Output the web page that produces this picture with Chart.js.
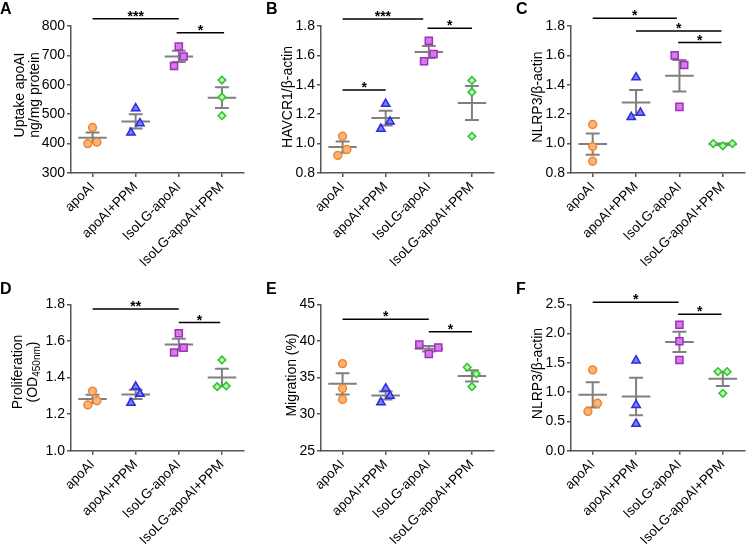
<!DOCTYPE html>
<html><head><meta charset="utf-8">
<script src="https://cdn.jsdelivr.net/npm/chart.js@4.4.1/dist/chart.umd.min.js"></script>
<style>
body{margin:0;background:#fff;width:751px;height:545px;position:relative;overflow:hidden;font-family:"Liberation Sans",Arial,sans-serif}
.p{position:absolute}
.lt{position:absolute;font-weight:bold;font-size:16px;line-height:16px;color:#000}
canvas{display:block}
</style></head><body>
<div class="p" style="left:0;top:0"><canvas id="cA" width="250" height="270"></canvas></div>
<div class="p" style="left:250px;top:0"><canvas id="cB" width="250" height="270"></canvas></div>
<div class="p" style="left:500px;top:0"><canvas id="cC" width="251" height="270"></canvas></div>
<div class="p" style="left:0;top:270px"><canvas id="cD" width="250" height="275"></canvas></div>
<div class="p" style="left:250px;top:270px"><canvas id="cE" width="250" height="275"></canvas></div>
<div class="p" style="left:500px;top:270px"><canvas id="cF" width="251" height="275"></canvas></div>
<div class="lt" style="left:0;top:1px">A</div>
<div class="lt" style="left:266px;top:1px">B</div>
<div class="lt" style="left:516px;top:1px">C</div>
<div class="lt" style="left:0;top:281px">D</div>
<div class="lt" style="left:266px;top:281px">E</div>
<div class="lt" style="left:516px;top:281px">F</div>
<script>
// ---------- data ----------
const categories = ['apoAI', 'apoAI+PPM', 'IsoLG-apoAI', 'IsoLG-apoAI+PPM'];

// A: Uptake apoAI (ng/mg protein)
const uptakeValues = [[455, 400, 405], [520, 469, 437], [730, 696, 664], [616, 558, 495]];
const uptakeTicks = [300, 400, 500, 600, 700, 800];
const uptakeSig = [[0, 2, 825, '***'], [1.95, 3.05, 777, '*']];

// B: HAVCR1/β-actin
const havcr1Values = [[1.05, 0.92, 0.96], [1.27, 1.15, 1.10], [1.70, 1.61, 1.56], [1.43, 1.35, 1.05]];
const havcr1Ticks = [0.8, 1.0, 1.2, 1.4, 1.6, 1.8];
const havcr1Sig = [[0, 1.87, 1.848, '***'], [1.97, 3.0, 1.784, '*'], [0, 1, 1.365, '*']];

// C: NLRP3/β-actin
const nlrp3CValues = [[1.13, 0.98, 0.88], [1.45, 1.18, 1.21], [1.60, 1.535, 1.25], [1.00, 0.985, 1.00]];
const nlrp3CTicks = [0.8, 1.0, 1.2, 1.4, 1.6, 1.8];
const nlrp3CSig = [[0, 1.94, 1.852, '*'], [1, 2.97, 1.766, '*'], [1.97, 2.97, 1.687, '*']];

// D: Proliferation (OD450nm)
const prolifValues = [[1.326, 1.25, 1.273], [1.35, 1.31, 1.262], [1.642, 1.563, 1.537], [1.496, 1.35, 1.354]];
const prolifTicks = [1.0, 1.2, 1.4, 1.6, 1.8];
const prolifSig = [[0, 2, 1.774, '**'], [2.0, 2.96, 1.70, '*']];

// E: Migration (%)
const migrationValues = [[36.9, 33.5, 32.0], [33.5, 32.5, 31.6], [39.5, 39.1, 38.2], [36.4, 35.5, 33.75]];
const migrationTicks = [25, 30, 35, 40, 45];
const migrationSig = [[0, 2, 42.95, '*'], [2, 3, 41.26, '*']];

// F: NLRP3/β-actin
const nlrp3FValues = [[1.38, 0.81, 0.67], [1.54, 0.78, 0.46], [2.15, 1.87, 1.55], [1.35, 1.35, 0.98]];
const nlrp3FTicks = [0.0, 0.5, 1.0, 1.5, 2.0, 2.5];
const nlrp3FSig = [[0, 1.98, 2.534, '*'], [1.97, 2.97, 2.33, '*']];

// horizontal scatter offsets of the dots (category units)
const jitterA = [[0, -0.11, 0.1], [0, 0.1, -0.11], [0, 0.11, -0.11], [0, 0, 0]];
const jitterB = [[0, -0.11, 0.1], [0, 0.1, -0.11], [0, 0.11, -0.11], [0, 0, 0]];
const jitterC = [[0, 0, 0], [0, -0.11, 0.1], [-0.11, 0.11, 0], [-0.22, 0, 0.22]];
const jitterD = [[0, -0.11, 0.1], [0, 0.1, -0.11], [0, 0.11, -0.11], [0, -0.11, 0.1]];
const jitterE = [[0, 0, 0], [0, 0.1, -0.11], [-0.22, 0.22, 0], [-0.11, 0.1, 0]];
const jitterF = [[0, 0.11, -0.11], [0, 0, 0], [0, 0, 0], [-0.11, 0.1, 0]];

// ---------- styles ----------
const FONT = '"Liberation Sans", Arial, sans-serif';
const AXIS = '#555555';
const markers = [
  {pointStyle: 'circle', backgroundColor: '#FDB47C', borderColor: '#F0852A', pointRadius: 3.9},
  {pointStyle: 'triangle', backgroundColor: '#7E7EF4', borderColor: '#2A2AE2', pointRadius: 4.8},
  {pointStyle: 'rect', backgroundColor: '#D77CE6', borderColor: '#A22CC0', pointRadius: 5.0},
  {pointStyle: 'rectRot', backgroundColor: '#BDF5B5', borderColor: '#2EC42E', pointRadius: 3.8}
];

const panelPlugin = {
  id: 'panel',
  beforeDatasetsDraw(chart, args, opts) {
    const {ctx, scales: {x, y}} = chart;
    ctx.save();
    ctx.strokeStyle = '#808080';
    ctx.lineWidth = 2;
    opts.groups.forEach((vals, i) => {
      const n = vals.length;
      const m = vals.reduce((a, b) => a + b, 0) / n;
      const sd = Math.sqrt(vals.reduce((a, b) => a + (b - m) * (b - m), 0) / (n - 1));
      const se = sd / Math.sqrt(n);
      const cx = x.getPixelForValue(i);
      const hw = x.getPixelForValue(i + 0.33) - cx;
      const cw = x.getPixelForValue(i + 0.16) - cx;
      const ym = y.getPixelForValue(m), yt = y.getPixelForValue(m + se), yb = y.getPixelForValue(m - se);
      ctx.beginPath();
      ctx.moveTo(cx - hw, ym); ctx.lineTo(cx + hw, ym);
      ctx.moveTo(cx - cw, yt); ctx.lineTo(cx + cw, yt);
      ctx.moveTo(cx - cw, yb); ctx.lineTo(cx + cw, yb);
      ctx.moveTo(cx, yt); ctx.lineTo(cx, yb);
      ctx.stroke();
    });
    ctx.restore();
  },
  afterDraw(chart, args, opts) {
    const {ctx, scales: {x, y}} = chart;
    ctx.save();
    // significance bars
    ctx.strokeStyle = '#000';
    ctx.fillStyle = '#000';
    ctx.lineWidth = 1.5;
    ctx.font = 'bold 14px ' + FONT;
    ctx.textAlign = 'center';
    ctx.textBaseline = 'alphabetic';
    opts.sig.forEach(([a, b, v, label]) => {
      const x1 = x.getPixelForValue(a), x2 = x.getPixelForValue(b), yy = y.getPixelForValue(v);
      ctx.beginPath(); ctx.moveTo(x1, yy); ctx.lineTo(x2, yy); ctx.stroke();
      ctx.fillText(label, (x1 + x2) / 2, yy + 2);
    });
    // y-axis title
    opts.title.lines.forEach((segs, li) => {
      ctx.save();
      ctx.translate(opts.title.x[li], opts.title.cy);
      ctx.rotate(-Math.PI / 2);
      ctx.textAlign = 'left';
      ctx.textBaseline = 'middle';
      ctx.fillStyle = '#000';
      const fonts = segs.map(s => (s[1] ? '10px ' : '14px ') + FONT);
      let total = 0;
      const widths = segs.map((s, k) => { ctx.font = fonts[k]; const w = ctx.measureText(s[0]).width; total += w; return w; });
      let px = -total / 2;
      segs.forEach((s, k) => {
        ctx.font = fonts[k];
        ctx.fillText(s[0], px, s[1] ? 4 : 0);
        px += widths[k];
      });
      ctx.restore();
    });
    ctx.restore();
  }
};

function makePanel(id, values, jitter, yTicks, decimals, sig, title, topPad, xHeight) {
  const datasets = values.map((vals, i) => Object.assign({
    label: categories[i],
    data: vals.map((v, j) => ({x: i + jitter[i][j], y: v})),
    borderWidth: 1.5,
    pointHoverRadius: 5
  }, markers[i]));
  new Chart(document.getElementById(id), {
    type: 'scatter',
    data: {datasets},
    plugins: [panelPlugin],
    options: {
      responsive: false,
      animation: false,
      events: [],
      layout: {padding: {top: topPad, left: 0, right: 0, bottom: 0}},
      plugins: {
        legend: {display: false},
        tooltip: {enabled: false},
        panel: {groups: values, sig, title}
      },
      scales: {
        x: {
          type: 'linear', min: -0.5, max: 3.5,
          afterBuildTicks: s => { s.ticks = categories.map((c, i) => ({value: i})); },
          afterFit: s => { s.height = xHeight; s.paddingLeft = 0; s.paddingRight = 0; },
          ticks: {
            autoSkip: false, maxRotation: 45, minRotation: 45, padding: 2,
            color: '#000', font: {family: FONT, size: 13.5},
            callback: v => categories[v]
          },
          grid: {drawOnChartArea: false, drawTicks: true, tickLength: 4, color: AXIS, lineWidth: 1.5},
          border: {display: true, color: AXIS, width: 1.5}
        },
        y: {
          type: 'linear', min: yTicks[0], max: yTicks[yTicks.length - 1],
          afterBuildTicks: s => { s.ticks = yTicks.map(v => ({value: v})); },
          afterFit: s => { s.width = 71; s.paddingTop = 0; s.paddingBottom = 0; },
          ticks: {
            padding: 2, color: '#000', font: {family: FONT, size: 14},
            callback: v => Number(v).toFixed(decimals)
          },
          grid: {drawOnChartArea: false, drawTicks: true, tickLength: 4, color: AXIS, lineWidth: 1.5},
          border: {display: true, color: AXIS, width: 1.5}
        }
      }
    }
  });
}

makePanel('cA', uptakeValues, jitterA, uptakeTicks, 0, uptakeSig,
  {lines: [[['Uptake apoAI', 0]], [['ng/mg protein', 0]]], x: [20, 35], cy: 95}, 26, 97);
makePanel('cB', havcr1Values, jitterB, havcr1Ticks, 1, havcr1Sig,
  {lines: [[['HAVCR1/β-actin', 0]]], x: [38], cy: 97}, 26, 97);
makePanel('cC', nlrp3CValues, jitterC, nlrp3CTicks, 1, nlrp3CSig,
  {lines: [[['NLRP3/β-actin', 0]]], x: [38], cy: 97}, 26, 97);
makePanel('cD', prolifValues, jitterD, prolifTicks, 1, prolifSig,
  {lines: [[['Proliferation', 0]], [['(OD', 0], ['450nm', 1], [')', 0]]], x: [18, 33], cy: 102}, 34.3, 94.3);
makePanel('cE', migrationValues, jitterE, migrationTicks, 0, migrationSig,
  {lines: [[['Migration (%)', 0]]], x: [42], cy: 105}, 34.3, 94.3);
makePanel('cF', nlrp3FValues, jitterF, nlrp3FTicks, 1, nlrp3FSig,
  {lines: [[['NLRP3/β-actin', 0]]], x: [38], cy: 103.5}, 34.3, 94.3);
</script>
</body></html>
